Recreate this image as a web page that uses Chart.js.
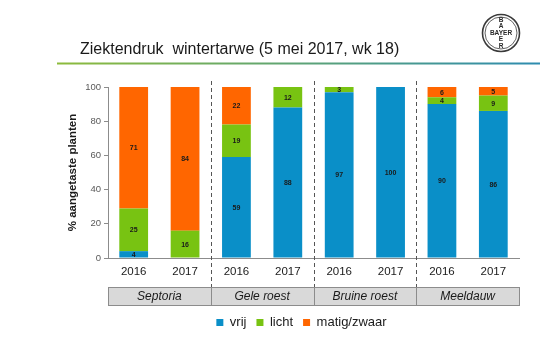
<!DOCTYPE html>
<html><head><meta charset="utf-8">
<script src="https://cdn.jsdelivr.net/npm/chart.js@4"></script>
<style>html,body{margin:0;padding:0;background:#fff}#wrap{width:543px;height:343px;position:relative}</style>
</head><body><div id="wrap"><canvas id="c" width="543" height="343"></canvas></div>
<script>
const years = ['2016','2017','2016','2017','2016','2017','2016','2017'];
const groups = ['Septoria','Gele roest','Bruine roest','Meeldauw'];
const vrij = [4,0,59,88,97,100,90,86];
const licht = [25,16,19,12,3,0,4,9];
const matig = [71,84,22,0,0,0,6,5];
const seriesNames = ['vrij','licht','matig/zwaar'];
const chartTitle = 'Ziektendruk  wintertarwe (5 mei 2017, wk 18)';
const yTitle = '% aangetaste planten';

const FONT = 'Arial, "Liberation Sans", sans-serif';

const deco = {
  id: 'deco',
  beforeDraw(chart) {
    const ctx = chart.ctx;
    ctx.save();
    ctx.fillStyle = '#fff';
    ctx.fillRect(0, 0, chart.width, chart.height);
    // title
    ctx.fillStyle = '#1a1a1a';
    ctx.font = '16px ' + FONT;
    ctx.textBaseline = 'alphabetic';
    ctx.textAlign = 'left';
    ctx.fillText(chartTitle, 80, 54);
    // gradient rule
    const g = ctx.createLinearGradient(57, 0, 540, 0);
    g.addColorStop(0, '#8dbb3c');
    g.addColorStop(1, '#2e8cb0');
    ctx.fillStyle = g;
    ctx.fillRect(57, 62.5, 483, 2);
    // logo
    const cx = 501, cy = 33;
    ctx.strokeStyle = '#3a3a3a';
    ctx.lineWidth = 1.6;
    ctx.beginPath(); ctx.arc(cx, cy, 18.5, 0, Math.PI * 2); ctx.stroke();
    ctx.lineWidth = 0.8;
    ctx.beginPath(); ctx.arc(cx, cy, 16, 0, Math.PI * 2); ctx.stroke();
    ctx.fillStyle = '#2a2a2a';
    ctx.font = 'bold 6.5px ' + FONT;
    ctx.textAlign = 'center';
    ctx.textBaseline = 'middle';
    ctx.fillText('BAYER', cx, cy);
    const letters = ['B','A','','E','R'];
    letters.forEach((l, i) => { if (l) ctx.fillText(l, cx, cy + (i - 2) * 6.6); });
    ctx.restore();
  },
  afterDraw(chart) {
    const ctx = chart.ctx;
    const xs = chart.scales.x;
    const ca = chart.chartArea;
    ctx.save();
    // data labels
    ctx.font = 'bold 7px ' + FONT;
    ctx.fillStyle = '#1a1a1a';
    ctx.textAlign = 'center';
    ctx.textBaseline = 'middle';
    chart.data.datasets.forEach((ds, di) => {
      const meta = chart.getDatasetMeta(di);
      meta.data.forEach((el, i) => {
        const v = ds.data[i];
        if (!v) return;
        ctx.fillText(String(v), el.x, (el.y + el.base) / 2 + 0.5);
      });
    });
    // group table
    const tTop = ca.bottom + 29, tBot = ca.bottom + 47;
    const left = xs.left, right = xs.right;
    ctx.fillStyle = '#d9d9d9';
    ctx.fillRect(left, tTop, right - left, tBot - tTop);
    ctx.strokeStyle = '#8c8c8c';
    ctx.lineWidth = 1;
    ctx.strokeRect(Math.round(left) + 0.5, Math.round(tTop) + 0.5, Math.round(right - left), Math.round(tBot - tTop));
    const n = chart.data.labels.length;
    const per = n / groups.length;
    const bounds = [];
    for (let k = 1; k < groups.length; k++) {
      const i = k * per;
      bounds.push((xs.getPixelForValue(i - 1) + xs.getPixelForValue(i)) / 2);
    }
    bounds.forEach(bx => {
      const x = Math.round(bx) + 0.5;
      ctx.strokeStyle = '#8c8c8c';
      ctx.setLineDash([]);
      ctx.beginPath(); ctx.moveTo(x, tTop); ctx.lineTo(x, tBot); ctx.stroke();
      ctx.strokeStyle = '#555';
      ctx.setLineDash([4, 3]);
      ctx.beginPath(); ctx.moveTo(x, ca.top - 6); ctx.lineTo(x, tTop); ctx.stroke();
    });
    ctx.setLineDash([]);
    ctx.fillStyle = '#1a1a1a';
    ctx.font = 'italic 12px ' + FONT;
    const edges = [left].concat(bounds).concat([right]);
    groups.forEach((gname, k) => {
      ctx.fillText(gname, (edges[k] + edges[k + 1]) / 2, (tTop + tBot) / 2 + 0.5);
    });
    ctx.restore();
  }
};

new Chart(document.getElementById('c'), {
  type: 'bar',
  data: {
    labels: years,
    datasets: [
      { label: seriesNames[0], data: vrij, backgroundColor: '#0a8fc8' },
      { label: seriesNames[1], data: licht, backgroundColor: '#78c312' },
      { label: seriesNames[2], data: matig, backgroundColor: '#ff6600' }
    ]
  },
  options: {
    responsive: false,
    animation: false,
    devicePixelRatio: 1,
    layout: { padding: { left: 84, right: 24, top: 87, bottom: 4 } },
    datasets: { bar: { categoryPercentage: 1, barPercentage: 0.56, borderWidth: 0 } },
    plugins: {
      title: { display: false },
      tooltip: { enabled: false },
      legend: {
        position: 'bottom',
        labels: { boxWidth: 7, boxHeight: 7, padding: 10, color: '#1a1a1a', font: { family: FONT, size: 13 } }
      }
    },
    scales: {
      x: {
        stacked: true,
        grid: { display: false, drawTicks: false },
        border: { display: true, color: '#8c8c8c' },
        ticks: { color: '#1a1a1a', padding: 7, font: { family: FONT, size: 11.5 } },
        afterFit(s) { s.height = 48; }
      },
      y: {
        stacked: true,
        min: 0, max: 100,
        grid: { drawOnChartArea: false, drawTicks: true, tickLength: 4, tickColor: '#8c8c8c' },
        border: { display: true, color: '#8c8c8c' },
        ticks: { stepSize: 20, color: '#595959', padding: 3, font: { family: FONT, size: 9.5 } },
        title: { display: true, text: yTitle, color: '#1a1a1a', padding: { top: -18, bottom: 0 }, font: { family: FONT, size: 11.5, weight: 'bold' } },
        afterFit(s) { s.width = 24; }
      }
    }
  },
  plugins: [deco]
});
</script>
</body></html>
